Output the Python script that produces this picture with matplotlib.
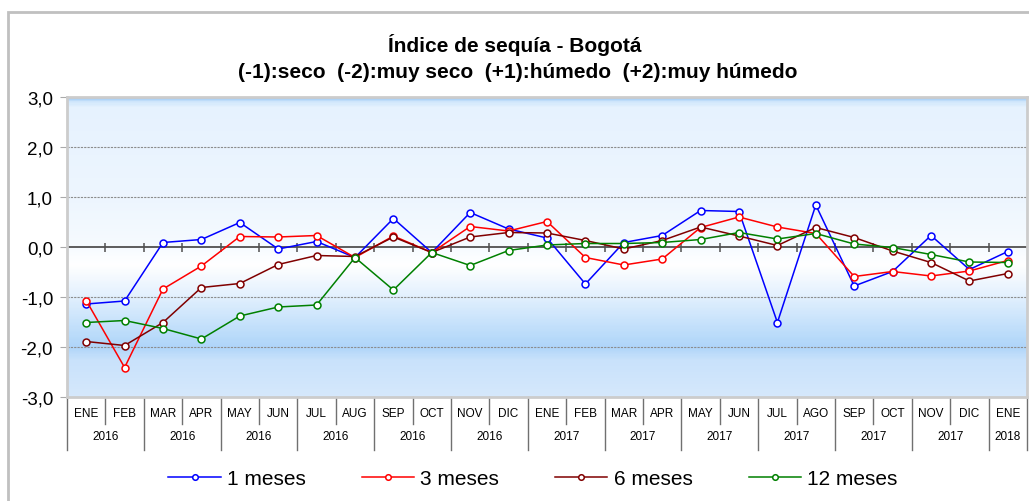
import numpy as np
import matplotlib
matplotlib.use("Agg")
import matplotlib.pyplot as plt
from matplotlib.colors import LinearSegmentedColormap
from matplotlib.patches import Rectangle
import matplotlib.transforms as mtransforms

plt.rcParams['font.family'] = ['Liberation Sans', 'DejaVu Sans']

# data
meses = ['ENE', 'FEB', 'MAR', 'APR', 'MAY', 'JUN', 'JUL', 'AUG', 'SEP', 'OCT', 'NOV', 'DIC',
         'ENE', 'FEB', 'MAR', 'APR', 'MAY', 'JUN', 'JUL', 'AGO', 'SEP', 'OCT', 'NOV', 'DIC', 'ENE']
anios = ['2016'] * 6 + ['2017'] * 6 + ['2018']

m1 = [-1.14, -1.08, 0.09, 0.15, 0.49, -0.04, 0.11, -0.21, 0.57, -0.11, 0.69, 0.36,
      0.18, -0.74, 0.09, 0.23, 0.73, 0.71, -1.51, 0.84, -0.78, -0.49, 0.23, -0.45, -0.09]
m3 = [-1.07, -2.41, -0.84, -0.38, 0.21, 0.20, 0.23, -0.21, 0.22, -0.11, 0.41, 0.32,
      0.51, -0.21, -0.36, -0.24, 0.39, 0.60, 0.40, 0.27, -0.59, -0.49, -0.58, -0.48, -0.27]
m6 = [-1.89, -1.97, -1.51, -0.81, -0.73, -0.35, -0.17, -0.19, 0.20, -0.11, 0.20, 0.29,
      0.28, 0.13, -0.04, 0.13, 0.40, 0.22, 0.03, 0.39, 0.19, -0.08, -0.31, -0.68, -0.53]
m12 = [-1.51, -1.47, -1.63, -1.84, -1.38, -1.20, -1.16, -0.21, -0.86, -0.11, -0.37, -0.07,
       0.04, 0.07, 0.07, 0.09, 0.15, 0.29, 0.16, 0.27, 0.06, -0.01, -0.15, -0.30, -0.31]

series = [(m1, '1 meses', '#0000ff'), (m3, '3 meses', '#ff0000'),
          (m6, '6 meses', '#800000'), (m12, '12 meses', '#008000')]

fig = plt.figure(figsize=(10.29, 5.02), dpi=100)
ax = fig.add_axes([67 / 1029, 104 / 502, 960 / 1029, 300 / 502])

x = np.arange(len(meses))
ax.set_xlim(-0.5, len(meses) - 0.5)
ax.set_ylim(-3, 3)

# background gradient (top -> bottom)
stops = [(0.0, '#9ecbf6'), (0.012, '#cfe6fc'), (0.03, '#e6f2fe'), (0.35, '#eef6fe'),
         (0.5, '#f6fbff'), (0.56, '#ffffff'), (0.66, '#e4f1fe'), (0.80, '#b9dbfa'),
         (0.835, '#afd5f9'), (0.88, '#c9e2fb'), (1.0, '#d5e8fc')]
cmap = LinearSegmentedColormap.from_list('bg', stops)
grad = np.linspace(0, 1, 300).reshape(-1, 1)
ax.imshow(grad, cmap=cmap, aspect='auto', extent=[-0.5, len(meses) - 0.5, -3, 3],
          origin='upper', zorder=0)

for v in [2, 1, -1, -2]:
    ax.axhline(v, color='#8c8c8c', lw=0.8, ls=(0, (2, 1)), zorder=1)
ax.axhline(0, color='#505050', lw=1.3, zorder=2)
bounds = np.arange(-0.5, len(meses) + 0.5, 1)
ax.vlines(bounds[1:-1], -0.09, 0.09, color='#505050', lw=1.1, zorder=2)

for vals, lab, col in series:
    ax.plot(x, vals, color=col, lw=1.1, marker='o', ms=5, mfc='white', mec=col,
            mew=1.1, label=lab, zorder=3)

for s in ax.spines.values():
    s.set_color('#cccccc')
    s.set_linewidth(2)

ax.set_yticks(np.arange(-3, 3.1, 1))
ax.set_yticklabels([f'{v:.1f}'.replace('.', ',') for v in np.arange(-3, 3.1, 1)],
                   fontsize=13.5)
ax.tick_params(axis='y', length=5, color='#aaaaaa', pad=5)
ax.set_xticks([])

# two-row category table below the axis
trans = mtransforms.blended_transform_factory(ax.transData, ax.transAxes)
for i, m in enumerate(meses):
    ax.text(i, -0.052, m, transform=trans, ha='center', va='center', fontsize=8.5,
            family=['Liberation Sans Narrow', 'Liberation Sans'])
for j, a in enumerate(anios):
    xc = 2 * j + 0.5 if j < 12 else 24
    ax.text(xc, -0.13, a, transform=trans, ha='center', va='center', fontsize=8.5)
for k, b in enumerate(bounds):
    group = (k % 2 == 0) or b == bounds[-1]
    y1 = -0.175 if group else -0.09
    ax.plot([b, b], [0, y1], transform=trans, color='#707070', lw=1, clip_on=False)

fig.text(0.5, 1 - 45 / 502, 'Índice de sequía - Bogotá', ha='center', va='center',
         fontsize=15, fontweight='bold')
fig.text(0.503, 1 - 73 / 502, '(-1):seco  (-2):muy seco  (+1):húmedo  (+2):muy húmedo',
         ha='center', va='center', fontsize=15, fontweight='bold')

fig.legend(loc='center', bbox_to_anchor=(0.518, 1 - 480 / 502), ncol=4, frameon=False,
           fontsize=15, handlelength=2.5, handletextpad=0.3, columnspacing=2.7,
           markerscale=0.8)

fig.patches.append(Rectangle((8 / 1029, -0.02), 1.05, 1 - 13 / 502 + 0.02,
                             transform=fig.transFigure, fill=False, ec='#c0c0c0', lw=2))

fig.savefig('out.png', dpi=100)
